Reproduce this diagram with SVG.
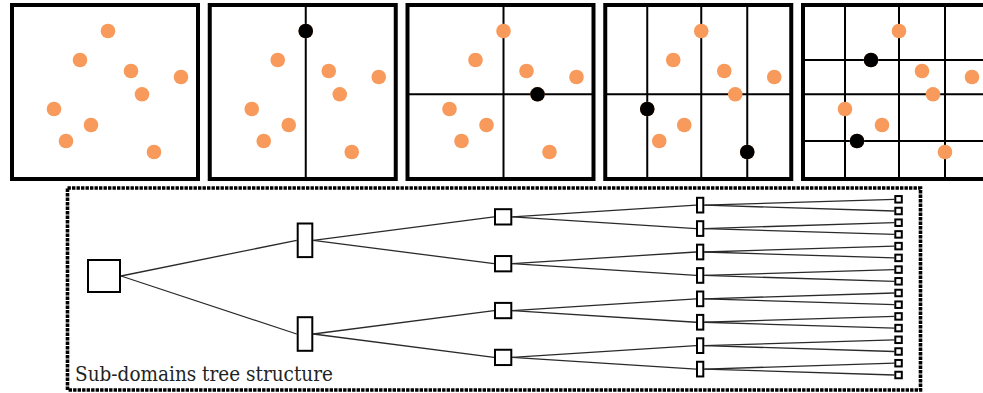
<svg xmlns="http://www.w3.org/2000/svg" width="983" height="393" viewBox="0 0 983 393">
  <style>
    .frame { fill: #fff; stroke: #000; stroke-width: 4; }
    .cut { stroke: #000; stroke-width: 2; fill: none; }
    .pt { fill: #F79A5B; }
    .pv { fill: #000; }
    .box { fill: #fff; stroke: #000; stroke-width: 2; }
    .edge { stroke: #2a2a2a; stroke-width: 1.3; fill: none; }
    .outline { fill: none; stroke: #000; stroke-width: 3.6; stroke-dasharray: 3.4 1.1; }
    .caption { font-family: 'DejaVu Serif', 'Liberation Serif', serif; font-size: 19.5px; fill: #222; }
  </style>
  <defs>
    <!-- orange sample points, in panel-local coordinates -->
    <g id="samples">
      <circle class="pt" cx="108" cy="31" r="7.3"/>
      <circle class="pt" cx="80" cy="60" r="7.3"/>
      <circle class="pt" cx="131" cy="71" r="7.3"/>
      <circle class="pt" cx="181" cy="77" r="7.3"/>
      <circle class="pt" cx="142" cy="94.3" r="7.3"/>
      <circle class="pt" cx="54" cy="109" r="7.3"/>
      <circle class="pt" cx="91" cy="125" r="7.3"/>
      <circle class="pt" cx="66" cy="141" r="7.3"/>
      <circle class="pt" cx="154" cy="152" r="7.3"/>
    </g>
  </defs>
  <rect width="983" height="393" fill="#fff"/>

  <!-- step 0: points only -->
  <g id="panel-0">
    <rect class="frame" x="12" y="5" width="186" height="174"/>
    <use href="#samples"/>
  </g>

  <!-- step 1: first vertical split -->
  <g id="panel-1" transform="translate(197.75,0)">
    <rect class="frame" x="12" y="5" width="186" height="174"/>
    <line class="cut" x1="108" y1="5" x2="108" y2="179"/>
    <use href="#samples"/>
    <circle class="pv" cx="108" cy="31" r="7.3"/>
  </g>

  <!-- step 2: horizontal split -->
  <g id="panel-2" transform="translate(395.5,0)">
    <rect class="frame" x="12" y="5" width="186" height="174"/>
    <line class="cut" x1="108" y1="5" x2="108" y2="179"/>
    <line class="cut" x1="12" y1="94.3" x2="198" y2="94.3"/>
    <use href="#samples"/>
    <circle class="pv" cx="142" cy="94.3" r="7.3"/>
  </g>

  <!-- step 3: vertical splits -->
  <g id="panel-3" transform="translate(593.25,0)">
    <rect class="frame" x="12" y="5" width="186" height="174"/>
    <line class="cut" x1="54" y1="5" x2="54" y2="179"/>
    <line class="cut" x1="108" y1="5" x2="108" y2="179"/>
    <line class="cut" x1="154" y1="5" x2="154" y2="179"/>
    <line class="cut" x1="12" y1="94.3" x2="198" y2="94.3"/>
    <use href="#samples"/>
    <circle class="pv" cx="54" cy="109" r="7.3"/>
    <circle class="pv" cx="154" cy="152" r="7.3"/>
  </g>

  <!-- step 4: horizontal splits -->
  <g id="panel-4" transform="translate(791,0)">
    <rect class="frame" x="12" y="5" width="186" height="174"/>
    <line class="cut" x1="54" y1="5" x2="54" y2="179"/>
    <line class="cut" x1="108" y1="5" x2="108" y2="179"/>
    <line class="cut" x1="154" y1="5" x2="154" y2="179"/>
    <line class="cut" x1="12" y1="60" x2="198" y2="60"/>
    <line class="cut" x1="12" y1="94.3" x2="198" y2="94.3"/>
    <line class="cut" x1="12" y1="141" x2="198" y2="141"/>
    <use href="#samples"/>
    <circle class="pv" cx="80" cy="60" r="7.3"/>
    <circle class="pv" cx="66" cy="141" r="7.3"/>
  </g>

  <!-- dotted outline around the tree -->
  <g id="tree-frame">
    <rect class="outline" x="67.5" y="188" width="853" height="202"/>
    <text class="caption" x="75" y="381" textLength="258" lengthAdjust="spacingAndGlyphs">Sub-domains tree structure</text>
  </g>

  <!-- tree edges -->
  <g id="connectors">
    <line class="edge" x1="121" y1="276" x2="296.7" y2="240.3"/>
    <line class="edge" x1="121" y1="276" x2="296.7" y2="334"/>

    <line class="edge" x1="313.3" y1="240.3" x2="494" y2="216.85"/>
    <line class="edge" x1="313.3" y1="240.3" x2="494" y2="263.7"/>
    <line class="edge" x1="313.3" y1="334" x2="494" y2="310.55"/>
    <line class="edge" x1="313.3" y1="334" x2="494" y2="357.4"/>

    <line class="edge" x1="512.3" y1="216.85" x2="696" y2="205.15"/>
    <line class="edge" x1="512.3" y1="216.85" x2="696" y2="228.55"/>
    <line class="edge" x1="512.3" y1="263.7" x2="696" y2="252"/>
    <line class="edge" x1="512.3" y1="263.7" x2="696" y2="275.45"/>
    <line class="edge" x1="512.3" y1="310.55" x2="696" y2="298.85"/>
    <line class="edge" x1="512.3" y1="310.55" x2="696" y2="322.25"/>
    <line class="edge" x1="512.3" y1="357.4" x2="696" y2="345.65"/>
    <line class="edge" x1="512.3" y1="357.4" x2="696" y2="369.1"/>

    <line class="edge" x1="704.3" y1="205.15" x2="894.3" y2="199.3"/>
    <line class="edge" x1="704.3" y1="205.15" x2="894.3" y2="211"/>
    <line class="edge" x1="704.3" y1="228.55" x2="894.3" y2="222.7"/>
    <line class="edge" x1="704.3" y1="228.55" x2="894.3" y2="234.4"/>
    <line class="edge" x1="704.3" y1="252" x2="894.3" y2="246.1"/>
    <line class="edge" x1="704.3" y1="252" x2="894.3" y2="257.9"/>
    <line class="edge" x1="704.3" y1="275.45" x2="894.3" y2="269.6"/>
    <line class="edge" x1="704.3" y1="275.45" x2="894.3" y2="281.3"/>
    <line class="edge" x1="704.3" y1="298.85" x2="894.3" y2="293"/>
    <line class="edge" x1="704.3" y1="298.85" x2="894.3" y2="304.7"/>
    <line class="edge" x1="704.3" y1="322.25" x2="894.3" y2="316.4"/>
    <line class="edge" x1="704.3" y1="322.25" x2="894.3" y2="328.1"/>
    <line class="edge" x1="704.3" y1="345.65" x2="894.3" y2="339.8"/>
    <line class="edge" x1="704.3" y1="345.65" x2="894.3" y2="351.5"/>
    <line class="edge" x1="704.3" y1="369.1" x2="894.3" y2="363.2"/>
    <line class="edge" x1="704.3" y1="369.1" x2="894.3" y2="375"/>
  </g>

  <!-- root -->
  <g id="node-root"><rect class="box" x="88" y="260" width="32" height="32"/></g>

  <!-- level 1 -->
  <g id="node-1a"><rect class="box" x="297.7" y="223.5" width="14.6" height="33.6"/></g>
  <g id="node-1b"><rect class="box" x="297.7" y="317.2" width="14.6" height="33.6"/></g>

  <!-- level 2 -->
  <g id="node-2a"><rect class="box" x="495" y="209.2" width="16.3" height="15.3"/></g>
  <g id="node-2b"><rect class="box" x="495" y="256.05" width="16.3" height="15.3"/></g>
  <g id="node-2c"><rect class="box" x="495" y="302.9" width="16.3" height="15.3"/></g>
  <g id="node-2d"><rect class="box" x="495" y="349.75" width="16.3" height="15.3"/></g>

  <!-- level 3 -->
  <g id="node-3a"><rect class="box" x="697" y="197.8" width="6.3" height="14.7"/></g>
  <g id="node-3b"><rect class="box" x="697" y="221.2" width="6.3" height="14.7"/></g>
  <g id="node-3c"><rect class="box" x="697" y="244.65" width="6.3" height="14.7"/></g>
  <g id="node-3d"><rect class="box" x="697" y="268.1" width="6.3" height="14.7"/></g>
  <g id="node-3e"><rect class="box" x="697" y="291.5" width="6.3" height="14.7"/></g>
  <g id="node-3f"><rect class="box" x="697" y="314.9" width="6.3" height="14.7"/></g>
  <g id="node-3g"><rect class="box" x="697" y="338.3" width="6.3" height="14.7"/></g>
  <g id="node-3h"><rect class="box" x="697" y="361.75" width="6.3" height="14.7"/></g>

  <!-- level 4 (leaves) -->
  <g id="node-4a"><rect class="box" x="895.3" y="196.05" width="6.5" height="6.5"/></g>
  <g id="node-4b"><rect class="box" x="895.3" y="207.75" width="6.5" height="6.5"/></g>
  <g id="node-4c"><rect class="box" x="895.3" y="219.45" width="6.5" height="6.5"/></g>
  <g id="node-4d"><rect class="box" x="895.3" y="231.15" width="6.5" height="6.5"/></g>
  <g id="node-4e"><rect class="box" x="895.3" y="242.85" width="6.5" height="6.5"/></g>
  <g id="node-4f"><rect class="box" x="895.3" y="254.65" width="6.5" height="6.5"/></g>
  <g id="node-4g"><rect class="box" x="895.3" y="266.35" width="6.5" height="6.5"/></g>
  <g id="node-4h"><rect class="box" x="895.3" y="278.05" width="6.5" height="6.5"/></g>
  <g id="node-4i"><rect class="box" x="895.3" y="289.75" width="6.5" height="6.5"/></g>
  <g id="node-4j"><rect class="box" x="895.3" y="301.45" width="6.5" height="6.5"/></g>
  <g id="node-4k"><rect class="box" x="895.3" y="313.15" width="6.5" height="6.5"/></g>
  <g id="node-4l"><rect class="box" x="895.3" y="324.85" width="6.5" height="6.5"/></g>
  <g id="node-4m"><rect class="box" x="895.3" y="336.55" width="6.5" height="6.5"/></g>
  <g id="node-4n"><rect class="box" x="895.3" y="348.25" width="6.5" height="6.5"/></g>
  <g id="node-4o"><rect class="box" x="895.3" y="359.95" width="6.5" height="6.5"/></g>
  <g id="node-4p"><rect class="box" x="895.3" y="371.75" width="6.5" height="6.5"/></g>
</svg>
